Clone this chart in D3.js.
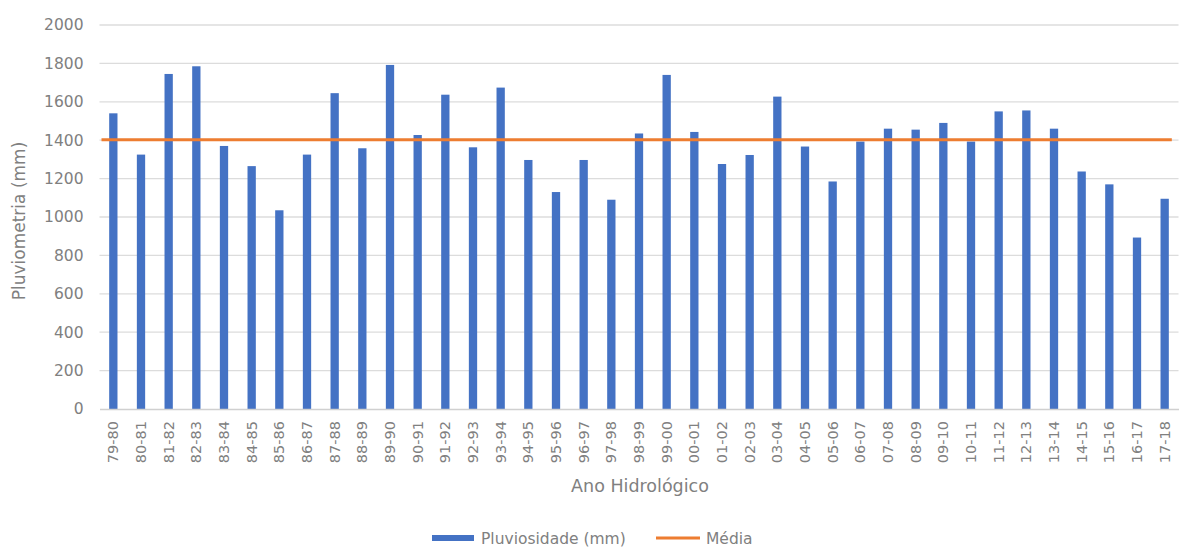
<!DOCTYPE html>
<html><head><meta charset="utf-8">
<script src="https://cdn.jsdelivr.net/npm/d3@7"></script>
<style>body{margin:0;background:#fff}svg{display:block}</style>
</head><body>
<svg id="c" width="1181" height="547"></svg>
<script>
const categories = ["79-80","80-81","81-82","82-83","83-84","84-85","85-86","86-87","87-88","88-89","89-90","90-91","91-92","92-93","93-94","94-95","95-96","96-97","97-98","98-99","99-00","00-01","01-02","02-03","03-04","04-05","05-06","06-07","07-08","08-09","09-10","10-11","11-12","12-13","13-14","14-15","15-16","16-17","17-18"];
const pluviosidade = [1540,1325,1745,1785,1370,1265,1035,1325,1645,1358,1792,1427,1637,1363,1674,1297,1130,1297,1090,1435,1740,1443,1276,1323,1627,1367,1185,1393,1460,1455,1490,1393,1550,1555,1460,1237,1170,893,1095];
const media = 1402;
const yTicks = [0,200,400,600,800,1000,1200,1400,1600,1800,2000];

(function(){
const svg = d3.select("#c");
const mLeft = 99.5, mRight = 1178.5, mTop = 25, mBottom = 409;
const font = "DejaVu Sans";
const txt = "#808080";

const x = d3.scaleBand().domain(categories).range([mLeft, mRight]).paddingInner(0.7).paddingOuter(0.35);
const y = d3.scaleLinear().domain([0, 2000]).range([mBottom, mTop]);

// gridlines
svg.append("g").selectAll("line").data(yTicks.slice(1)).join("line")
  .attr("x1", mLeft).attr("x2", mRight)
  .attr("y1", d => y(d)).attr("y2", d => y(d))
  .attr("stroke", "#dcdcdc").attr("stroke-width", 1.3);

// y axis labels
const ya = svg.append("g").attr("transform", `translate(${mLeft - 16},0)`)
  .call(d3.axisLeft(y).tickValues(yTicks).tickFormat(d3.format("d")).tickSize(0).tickPadding(0));
ya.select(".domain").remove();
ya.selectAll("text").attr("font-family", font).attr("font-size", 15.5).attr("fill", txt);

// bars
svg.append("g").selectAll("rect").data(pluviosidade).join("rect")
  .attr("x", (d, i) => x(categories[i]))
  .attr("width", x.bandwidth())
  .attr("y", d => y(d))
  .attr("height", d => y(0) - y(d))
  .attr("fill", "#4472C4");

// x axis
const xa = svg.append("g").attr("transform", `translate(0,${mBottom})`)
  .call(d3.axisBottom(x).tickSize(0).tickPadding(0));
xa.select(".domain").attr("stroke", "#d0d0d0").attr("stroke-width", 1.3);
xa.selectAll("text").attr("font-family", font).attr("font-size", 14.5).attr("fill", txt)
  .attr("transform", "rotate(-90)")
  .attr("text-anchor", "end")
  .attr("x", -12).attr("y", 0).attr("dy", "0.35em");

// mean line
svg.append("line")
  .attr("x1", mLeft + 2).attr("x2", x(categories[categories.length - 1]) + x.bandwidth() + 3)
  .attr("y1", y(media)).attr("y2", y(media))
  .attr("stroke", "#ED7D31").attr("stroke-width", 3);

// axis titles
svg.append("text").attr("transform", `translate(25,${(mTop + mBottom) / 2 + 4}) rotate(-90)`)
  .attr("text-anchor", "middle").attr("font-family", font).attr("font-size", 17).attr("fill", txt)
  .text("Pluviometria (mm)");
svg.append("text").attr("x", 640).attr("y", 492)
  .attr("text-anchor", "middle").attr("font-family", font).attr("font-size", 17.5).attr("fill", txt)
  .text("Ano Hidrológico");

// legend
const lg = svg.append("g");
lg.append("rect").attr("x", 432).attr("y", 535).attr("width", 42).attr("height", 6).attr("fill", "#4472C4");
lg.append("text").attr("x", 481).attr("y", 543.5).attr("font-family", font).attr("font-size", 15.5).attr("fill", txt).text("Pluviosidade (mm)");
lg.append("line").attr("x1", 656).attr("x2", 700).attr("y1", 538).attr("y2", 538).attr("stroke", "#ED7D31").attr("stroke-width", 3);
lg.append("text").attr("x", 706).attr("y", 543.5).attr("font-family", font).attr("font-size", 15.5).attr("fill", txt).text("Média");
})();
</script>
</body></html>
